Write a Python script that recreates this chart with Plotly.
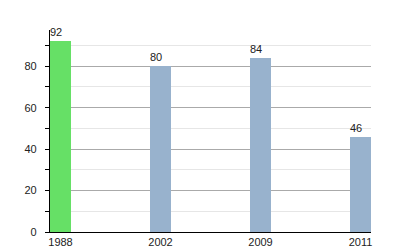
import plotly.graph_objects as go

years = ["1988", "2002", "2009", "2011"]
values = [92, 80, 84, 46]
colors = ["#66e066", "#98b2cd", "#98b2cd", "#98b2cd"]

fig = go.Figure()
fig.add_trace(go.Bar(x=years, y=values, marker=dict(color=colors, line=dict(width=0)), width=0.21))

for i, v in enumerate(values):
    fig.add_annotation(x=i, xref="x", y=v, yref="y", text=str(v), showarrow=False, yanchor="bottom",
                       xshift=-5, yshift=1, font=dict(size=11, color="#222"))

fig.update_layout(
    width=400, height=250,
    margin=dict(l=50, r=29, t=30, b=18),
    paper_bgcolor="white", plot_bgcolor="white",
    font=dict(family="Liberation Sans, Arial, sans-serif", size=11, color="#222"),
    showlegend=False,
    bargap=0,
)
fig.update_xaxes(type="category", range=[-0.105, 3.105], showline=True, linecolor="black",
                 linewidth=1.2, showgrid=False, ticks="", tickfont=dict(size=11), automargin=False)
fig.update_yaxes(range=[0, 97.5], dtick=20, tick0=0, showline=True, linecolor="black", linewidth=1.2,
                 ticks="outside", ticklen=4, tickcolor="black", showgrid=True, gridcolor="#aaaaaa",
                 gridwidth=1, zeroline=False, ticklabelstandoff=6, automargin=False,
                 minor=dict(dtick=10, tick0=0, showgrid=True, gridcolor="#e6e6e6", ticks="outside",
                            ticklen=4, tickcolor="black"))

fig.write_html("out.html")
